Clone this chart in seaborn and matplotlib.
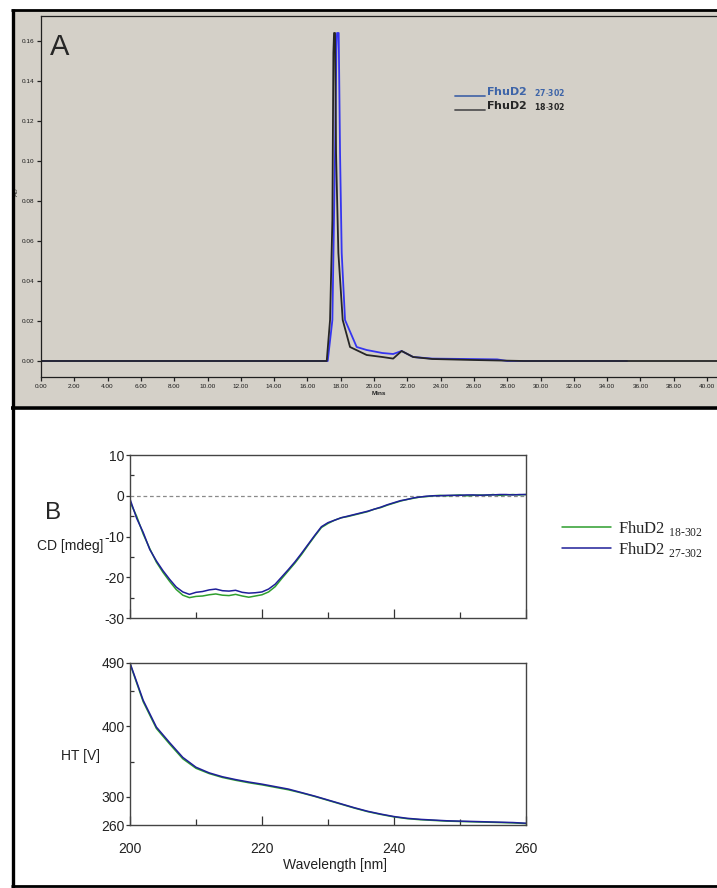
import pandas as pd
import seaborn as sns
import matplotlib.pyplot as plt
from matplotlib.lines import Line2D
from matplotlib.patches import Rectangle
from matplotlib.legend_handler import HandlerLine2D
from matplotlib.ticker import MultipleLocator, FormatStrFormatter

# ---- panel A: gel filtration trace (minutes, AU) ----
sec_min_18 = [0.0, 17.0, 17.16, 17.36, 17.50, 17.56, 17.60, 17.66, 17.72, 17.86, 18.12,
              18.56, 19.56, 20.50, 21.15, 21.66, 22.35, 23.50, 26.00, 29.00, 40.6]
sec_au_18 = [0.0, 0.0, 0.0, 0.0205, 0.0705, 0.154, 0.164, 0.164, 0.104, 0.054, 0.0205,
             0.007, 0.003, 0.002, 0.0012, 0.005, 0.002, 0.001, 0.0005, 0.0, 0.0]
sec_min_27 = [0.0, 17.0, 17.22, 17.50, 17.66, 17.74, 17.78, 17.88, 17.96, 18.06, 18.26,
              18.96, 19.56, 20.50, 21.15, 21.66, 22.35, 23.50, 25.60, 27.40, 28.00, 35.2]
sec_au_27 = [0.0, 0.0, 0.0, 0.0205, 0.104, 0.155, 0.164, 0.164, 0.104, 0.054, 0.0205,
             0.007, 0.0055, 0.004, 0.0035, 0.005, 0.002, 0.0012, 0.001, 0.0008, 0.0, 0.0]

# ---- panel B: CD spectra (1 nm) and HT voltage (2 nm) ----
wavelength_cd = list(range(200, 261))
cd_18 = [-1.5, -5.0, -9.4, -13.0, -16.3, -18.8, -21.0, -23.0, -24.4, -25.0,
         -24.7, -24.6, -24.3, -24.1, -24.4, -24.5, -24.2, -24.6, -24.9, -24.6,
         -24.3, -23.6, -22.3, -20.3, -18.4, -16.5, -14.4, -12.1, -9.9, -7.8,
         -6.8, -6.0, -5.4, -5.1, -4.7, -4.3, -3.9, -3.3, -2.9, -2.3,
         -1.8, -1.3, -0.9, -0.6, -0.3, -0.2, 0.0, 0.1, 0.0, 0.1,
         0.2, 0.0, 0.1, 0.2, 0.1, 0.3, 0.1, 0.2, 0.3, 0.2, 0.3]
cd_27 = [-0.8, -5.5, -9.0, -13.2, -16.0, -18.4, -20.5, -22.4, -23.6, -24.2,
         -23.7, -23.5, -23.1, -22.9, -23.3, -23.4, -23.2, -23.7, -23.9, -23.8,
         -23.6, -22.9, -21.7, -19.9, -18.1, -16.2, -14.1, -11.9, -9.7, -7.6,
         -6.6, -6.0, -5.4, -5.0, -4.6, -4.2, -3.8, -3.3, -2.8, -2.2,
         -1.7, -1.2, -0.9, -0.5, -0.3, -0.1, 0.0, 0.0, 0.1, 0.1,
         0.1, 0.2, 0.2, 0.1, 0.2, 0.2, 0.3, 0.3, 0.2, 0.3, 0.3]
wavelength_ht = list(range(200, 261, 2))
ht_18 = [489, 435, 397, 375, 354, 340.5, 333, 327.5, 323.5, 320, 317, 313.5, 310, 305.5,
         300.5, 295, 289.5, 284, 279, 275, 271.5, 269, 267.5, 266.5, 265.5, 265, 264.5,
         264, 263.5, 263, 262]
ht_27 = [490, 437, 399, 377, 356, 342, 334, 328.5, 324.5, 321, 318, 314.5, 311, 306,
         301, 295.5, 290, 284.5, 279.5, 275.5, 272, 269.5, 268, 267, 266, 265.5, 265,
         264.5, 264, 263.5, 262.5]

sns.set_theme(style="white")
plt.rcParams["font.family"] = ["Liberation Sans", "DejaVu Sans"]
plt.rcParams["axes.unicode_minus"] = False
plt.rcParams["mathtext.fontset"] = "custom"
plt.rcParams["mathtext.rm"] = "Liberation Serif"
plt.rcParams["mathtext.sf"] = "DejaVu Sans:bold"

W, H = 717, 888
fig = plt.figure(figsize=(W / 100, H / 100), dpi=100)


def box(x0, y0, x1, y1):
    # pixel box (top-left origin) -> figure rect
    return [x0 / W, 1 - y1 / H, (x1 - x0) / W, (y1 - y0) / H]


def hline(y, x0, x1, lw):
    fig.add_artist(Line2D([x0 / W, x1 / W], [1 - y / H, 1 - y / H], color="black",
                          lw=lw, transform=fig.transFigure, solid_capstyle="butt"))


def vline(x, y0, y1, lw):
    fig.add_artist(Line2D([x / W, x / W], [1 - y0 / H, 1 - y1 / H], color="black",
                          lw=lw, transform=fig.transFigure, solid_capstyle="butt"))


class UnderlineHandler(HandlerLine2D):
    # legend line sits under the text, like the instrument software draws it
    def create_artists(self, legend, orig_handle, xdescent, ydescent, width, height,
                       fontsize, trans):
        artists = super().create_artists(legend, orig_handle, xdescent, ydescent, width,
                                         height, fontsize, trans)
        for a in artists:
            a.set_ydata([y - 0.6 * height for y in a.get_ydata()])
        return artists


# frame / panel backgrounds
fig.patches.append(Rectangle((12 / W, 1 - 406 / H), (W - 12) / W, (406 - 10) / H,
                             transform=fig.transFigure, facecolor="#d4d0c8",
                             edgecolor="none", zorder=-1))
hline(10, 11, W, 2.0)
hline(408, 11, W, 2.6)
hline(886, 11, W, 2.0)
vline(12.5, 9, 888, 2.4)

# ---------------- panel A ----------------
axA = fig.add_axes(box(41, 16, 717, 377))
axA.set_facecolor("#d4d0c8")
sns.lineplot(x=sec_min_27, y=sec_au_27, ax=axA, color="#3535f0", lw=1.3,
             estimator=None, label=r"FhuD2  $_{\mathsf{27}\text{-}\mathsf{302}}$")
sns.lineplot(x=sec_min_18, y=sec_au_18, ax=axA, color="#262626", lw=1.3,
             estimator=None, label=r"FhuD2  $_{\mathsf{18}\text{-}\mathsf{302}}$")
axA.set_xlim(0, 40.6)
axA.set_ylim(-0.008, 0.1725)
axA.xaxis.set_major_locator(MultipleLocator(2))
axA.xaxis.set_minor_locator(MultipleLocator(0.4))
axA.yaxis.set_major_locator(MultipleLocator(0.02))
axA.yaxis.set_minor_locator(MultipleLocator(0.005))
axA.xaxis.set_major_formatter(FormatStrFormatter("%.2f"))
axA.yaxis.set_major_formatter(FormatStrFormatter("%.2f"))
axA.tick_params(which="both", direction="out", color="#202020", width=0.9,
                labelsize=4.6, labelcolor="#1a1a1a", pad=1.5)
axA.tick_params(which="major", length=3.2)
axA.tick_params(which="minor", length=2.0)
axA.tick_params(axis="x", bottom=True)
axA.tick_params(axis="y", left=True)
for side in ["top", "left", "bottom"]:
    axA.spines[side].set_color("#202020")
    axA.spines[side].set_linewidth(0.9)
axA.spines["right"].set_visible(False)
axA.set_xlabel("Mins", fontsize=4.6, fontweight="bold", labelpad=2)
axA.set_ylabel("AU", fontsize=4.6)
axA.yaxis.set_label_coords(-0.032, 0.515)

hA, lA = axA.get_legend_handles_labels()
legA = axA.legend(hA, lA, loc="upper left", bbox_to_anchor=(449 / W, 1 - 80 / H),
                  bbox_transform=fig.transFigure, frameon=False, borderpad=0,
                  handlelength=2.7, handletextpad=0.1, labelspacing=0.02,
                  handler_map={Line2D: UnderlineHandler()},
                  prop={"family": "DejaVu Sans", "weight": "bold", "size": 8})
legA.get_lines()[0].set_color("#4a6aa8")
legA.get_lines()[1].set_color("#555555")
legA.get_texts()[0].set_color("#3d64a8")
fig.text(50 / W, 1 - 55 / H, "A", fontsize=21, va="baseline")

# ---------------- panel B ----------------
axCD = fig.add_axes(box(130, 455, 526, 618))
axHT = fig.add_axes(box(130, 663, 526, 825))
green, navy = "#2e9e2e", "#1f1f99"

axCD.axhline(0, color="#8a8a8a", ls=(0, (3, 2.2)), lw=0.9, zorder=0)
sns.lineplot(x=wavelength_cd, y=cd_18, ax=axCD, color=green, lw=1.1, estimator=None,
             label=r"FhuD2 $_{\text{18-302}}$")
sns.lineplot(x=wavelength_cd, y=cd_27, ax=axCD, color=navy, lw=1.1, estimator=None,
             label=r"FhuD2 $_{\text{27-302}}$")
sns.lineplot(x=wavelength_ht, y=ht_18, ax=axHT, color=green, lw=1.1, estimator=None,
             legend=False)
sns.lineplot(x=wavelength_ht, y=ht_27, ax=axHT, color=navy, lw=1.1, estimator=None,
             legend=False)

hB, lB = axCD.get_legend_handles_labels()
axCD.get_legend().remove()
fig.legend(hB, lB, loc="upper left", bbox_to_anchor=(554 / W, 1 - 511 / H),
           frameon=False, borderpad=0, handlelength=2.9, handletextpad=0.42,
           labelspacing=0.12, prop={"family": "Liberation Serif", "size": 12})

axCD.set_ylim(-30, 10)
axCD.set_yticks([-30, -20, -10, 0, 10])
axCD.set_yticks([-25, -15, -5, 5], minor=True)
axHT.set_ylim(260, 490)
axHT.set_yticks([260, 300, 400, 490])
axHT.set_yticks([350, 450], minor=True)

for ax in (axCD, axHT):
    ax.set_xlim(200, 260)
    ax.set_xticks([200, 220, 240, 260])
    ax.set_xticks([210, 230, 250], minor=True)
    ax.tick_params(axis="x", which="both", direction="in", bottom=True, top=False,
                   color="#333333", width=0.9, labelsize=10, labelcolor="#222222", pad=12)
    ax.tick_params(axis="x", which="major", length=6.5)
    ax.tick_params(axis="x", which="minor", length=4.3)
    ax.tick_params(axis="y", which="major", direction="out", left=True, length=3,
                   width=0.9, color="#333333", labelsize=10, labelcolor="#222222", pad=1)
    ax.tick_params(axis="y", which="minor", direction="in", left=True, length=3,
                   width=0.9, color="#333333")
    for s in ax.spines.values():
        s.set_color("#444444")
        s.set_linewidth(1.0)

axCD.tick_params(axis="x", labelbottom=False)
axCD.set_ylabel("CD [mdeg]", rotation=0, ha="right", va="center", fontsize=10,
                color="#222222")
axCD.yaxis.set_label_coords(-0.068, 0.442)
axHT.set_ylabel("HT [V]", rotation=0, ha="right", va="center", fontsize=10,
                color="#222222")
axHT.yaxis.set_label_coords(-0.076, 0.426)
axHT.set_xlabel("Wavelength [nm]", fontsize=10, color="#222222")
axHT.xaxis.set_label_coords(0.518, -0.205)

fig.text(45 / W, 1 - 519 / H, "B", fontsize=17.5, va="baseline")

fig.savefig("out.png", dpi=100)
